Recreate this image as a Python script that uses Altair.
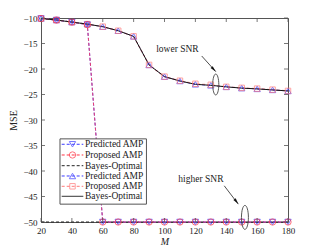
import altair as alt
import pandas as pd

M = [20, 30, 40, 50, 60, 70, 80, 90, 100, 110, 120, 130, 140, 150, 160, 170, 180]

# lower SNR
low_pred = [-10.1, -10.4, -10.8, -11.2, -11.7, -12.5, -13.6, -19.2, -21.5, -22.35, -23.0, -23.2, -23.5, -23.75, -23.9, -24.1, -24.3]
low_prop = [-10.1, -10.4, -10.8, -11.2, -11.7, -12.5, -13.6, -19.2, -21.5, -22.3, -22.9, -23.1, -23.5, -23.7, -23.85, -24.05, -24.3]
low_bayes = [-10.1, -10.4, -10.8, -11.2, -11.7, -12.5, -13.6, -19.2, -21.5, -22.35, -23.0, -23.2, -23.5, -23.75, -23.9, -24.1, -24.3]
# higher SNR
high_pred = [-10.1, -10.4, -10.8, -11.3, -50, -50, -50, -50, -50, -50, -50, -50, -50, -50, -50, -50, -50]
high_prop = [-10.1, -10.4, -10.8, -11.3, -50, -50, -50, -50, -50, -50, -50, -50, -50, -50, -50, -50, -50]
high_bayes = [-50, -50, -50, -50, -50, -50, -50, -50, -50, -50, -50, -50, -50, -50, -50, -50, -50]

x_ticks = [20, 40, 60, 80, 100, 120, 140, 160, 180]
y_ticks = [-10, -15, -20, -25, -30, -35, -40, -45, -50]

legend_labels = ["Predicted AMP", "Proposed AMP", "Bayes-Optimal", "Predicted AMP", "Proposed AMP", "Bayes-Optimal"]
legend_colors = ["#3b3bff", "#ff3344", "#222222", "#3b3bff", "#ff7a7a", "#333333"]
legend_shapes = ["triangle-down", "circle", None, "triangle-up", "square", None]
legend_dashed = [True, True, True, True, True, False]
legend_y = [-34.76, -36.86, -38.96, -40.98, -43.0, -44.96]

FONT = "Liberation Serif"
BLUE = "#3b3bff"
RED = "#ff3344"
PINK = "#ff7a7a"
PINKLINE = "#ff9a9a"

xs = alt.Scale(domain=[20, 180], nice=False, zero=False)
ys = alt.Scale(domain=[-50, -10], nice=False, zero=False)

XAX = alt.Axis(values=x_ticks, title="M", labelOverlap=False, labelFlush=False)
YAX = alt.Axis(values=y_ticks, title="MSE", labelOverlap=False, labelFlush=False)


def X(f="M"):
    return alt.X(f"{f}:Q", scale=xs, axis=XAX)


def Y(f="v"):
    return alt.Y(f"{f}:Q", scale=ys, axis=YAX)


def series(vals):
    return pd.DataFrame({"M": M, "v": vals})


layers = []


def line(vals, color, dash, width=1.0):
    props = dict(color=color, strokeWidth=width)
    if dash:
        props["strokeDash"] = [3, 2]
    return alt.Chart(series(vals)).mark_line(**props).encode(x=X(), y=Y())


def pts(vals, color, shape, size):
    return alt.Chart(series(vals)).mark_point(
        shape=shape, color=color, filled=False, size=size, strokeWidth=1.0
    ).encode(x=X(), y=Y())


# lines
layers.append(line(high_bayes, "#222222", True))
layers.append(line(high_pred, BLUE, True))
layers.append(line(high_prop, "#ee4070", True))
layers.append(line(low_pred, BLUE, True))
layers.append(line(low_prop, PINKLINE, True, 1.2))
layers.append(line(low_bayes, "#111111", False))
# markers
layers.append(pts(low_pred, BLUE, "triangle-up", 40))
layers.append(pts(low_prop, PINK, "square", 30))
layers.append(pts(high_pred, BLUE, "triangle-down", 40))
layers.append(pts(high_prop, RED, "circle", 40))

# legend box
box = pd.DataFrame({"M": [32.3], "M2": [88.3], "v": [-33.7], "v2": [-46.5]})
layers.append(
    alt.Chart(box).mark_rect(fill="white", stroke="#555555", strokeWidth=1).encode(
        x=X(), x2="M2:Q", y=Y(), y2="v2:Q"
    )
)
for lab, col, shp, dsh, yy in zip(legend_labels, legend_colors, legend_shapes, legend_dashed, legend_y):
    seg = pd.DataFrame({"M": [33.4, 47.4], "v": [yy, yy]})
    lp = dict(color=col, strokeWidth=1.0)
    if dsh:
        lp["strokeDash"] = [3, 2]
    layers.append(alt.Chart(seg).mark_line(**lp).encode(x=X(), y=Y()))
    if shp:
        layers.append(
            alt.Chart(pd.DataFrame({"M": [40.4], "v": [yy]})).mark_point(
                shape=shp, color=col, filled=False, size=40 if shp != "square" else 30, strokeWidth=1.0
            ).encode(x=X(), y=Y())
        )
    layers.append(
        alt.Chart(pd.DataFrame({"M": [48.5], "v": [yy], "t": [lab]})).mark_text(
            align="left", baseline="middle", font=FONT, fontSize=9.5, color="#222222"
        ).encode(x=X(), y=Y(), text="t:N")
    )

# annotations
ann_text = pd.DataFrame({"M": [108.4, 123.6], "v": [-16.1, -41.6], "t": ["lower SNR", "higher SNR"]})
layers.append(
    alt.Chart(ann_text).mark_text(font=FONT, fontSize=9.5, color="#222222", baseline="middle").encode(
        x=X(), y=Y(), text="t:N"
    )
)
arrows = pd.DataFrame({"M": [124.1, 138.7], "v": [-17.45, -42.9], "M2": [133.2, 147.8], "v2": [-20.5, -46.5]})
layers.append(
    alt.Chart(arrows).mark_rule(color="#222222", strokeWidth=0.8).encode(
        x=X(), y=Y(), x2="M2:Q", y2="v2:Q"
    )
)
heads = pd.DataFrame({"M": [131.9, 146.6], "v": [-20.09, -46.0], "a": [138.3, 142.6]})
layers.append(
    alt.Chart(heads).mark_point(
        shape="M0,-1 L0.45,1 L-0.45,1 Z", filled=True, color="#111111", size=40, opacity=1
    ).encode(x=X(), y=Y(), angle=alt.Angle("a:Q", scale=None))
)
ell = pd.DataFrame({"M": [133.2, 152.1], "v": [-23.04, -49.1], "s": [441, 576]})
layers.append(
    alt.Chart(ell).mark_point(
        shape="M0,-1 A0.29,1 0 1,1 0,1 A0.29,1 0 1,1 0,-1 Z", filled=False, color="#444444", strokeWidth=0.9, opacity=1
    ).encode(x=X(), y=Y(), size=alt.Size("s:Q", scale=None))
)

# inward ticks
xt = pd.DataFrame({"M": x_ticks})
yt = pd.DataFrame({"v": y_ticks})
TC = "#555555"
layers.append(alt.Chart(xt).mark_rule(color=TC, strokeWidth=0.8).encode(x=X(), y=alt.value(204), y2=alt.value(200)))
layers.append(alt.Chart(xt).mark_rule(color=TC, strokeWidth=0.8).encode(x=X(), y=alt.value(0), y2=alt.value(4)))
layers.append(alt.Chart(yt).mark_rule(color=TC, strokeWidth=0.8).encode(y=Y(), x=alt.value(0), x2=alt.value(4)))
layers.append(alt.Chart(yt).mark_rule(color=TC, strokeWidth=0.8).encode(y=Y(), x=alt.value(243), x2=alt.value(247)))

chart = alt.layer(*layers).properties(
    width=247,
    height=204,
    autosize=alt.AutoSizeParams(type="none"),
    padding={"left": 33, "top": 10, "right": 23, "bottom": 28},
).configure_view(stroke="#555555", strokeWidth=1).configure_axis(
    grid=False,
    ticks=False,
    domain=False,
    labelFont=FONT,
    labelFontSize=9,
    labelColor="#222222",
    labelOverlap=False,
    titleFont=FONT,
    titleFontSize=10,
    titleFontWeight="normal",
    titleColor="#222222",
).configure_axisX(labelPadding=4, titlePadding=1, titleFontStyle="italic").configure_axisY(
    labelPadding=4, titlePadding=4
)

chart.save("out.html", embed_options={"renderer": "svg", "actions": False})
